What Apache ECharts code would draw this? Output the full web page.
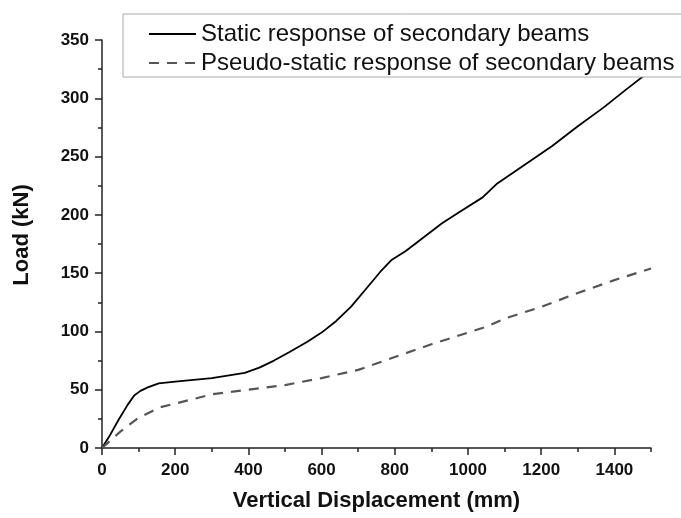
<!DOCTYPE html>
<html>
<head>
<meta charset="utf-8">
<script src="https://cdn.jsdelivr.net/npm/echarts@6/dist/echarts.min.js"></script>
<style>html,body{margin:0;padding:0;background:#fff}#c{width:681px;height:518px}</style>
</head>
<body>
<div id="c"></div>
<script>
var seriesNames = ['Static response of secondary beams', 'Pseudo-static response of secondary beams'];
var staticX = [0,20,45,70,88,105,125,155,200,300,390,430,470,510,560,600,640,680,720,760,790,830,880,930,980,1040,1080,1150,1230,1300,1370,1430,1500];
var staticY = [0,10,24,37,45,49,52,55.5,57,60,64.5,69,75,82,91,99,109,121,136,151,161,169,181,193,203,215,227,242,259,276,292,307,324];
var pseudoX = [0,25,50,100,160,250,300,400,500,600,700,800,900,1000,1050,1100,1200,1300,1400,1500];
var pseudoY = [0,7,14,26,35,42,46,50,54,60,67,78,89,99,104,111,121,133,144,154];
var xTitle = 'Vertical Displacement (mm)';
var yTitle = 'Load (kN)';

function pairs(xs, ys){ return xs.map(function(x,i){ return [x, ys[i]]; }); }

var font = 'Liberation Sans, Arial, sans-serif';
var axisCol = '#222';
var chart = echarts.init(document.getElementById('c'), null, {renderer:'canvas'});
chart.setOption({
  backgroundColor: '#fff',
  animation: false,
  grid: {left: 102, right: 30, top: 40, bottom: 70, containLabel: false},
  legend: {
    orient: 'vertical',
    left: 123, top: 14,
    padding: [8, 40, 2, 25],
    itemGap: 5,
    itemWidth: 47,
    itemHeight: 14,
    backgroundColor: '#fff',
    borderColor: '#aaa',
    borderWidth: 1,
    itemStyle: {opacity: 0},
    textStyle: {fontFamily: font, fontSize: 24, color: '#111'},
    data: seriesNames
  },
  xAxis: [{
    type: 'value', min: 0, max: 1500, interval: 200,
    name: xTitle, nameLocation: 'middle', nameGap: 42,
    nameTextStyle: {fontFamily: font, fontSize: 22, fontWeight: 'bold', color: '#111'},
    splitLine: {show: false},
    axisLine: {show: true, onZero: false, lineStyle: {color: axisCol, width: 1.5}},
    axisTick: {show: true, length: 7, lineStyle: {color: axisCol, width: 1.5}},
    axisLabel: {showMaxLabel: false, margin: 14, fontFamily: font, fontSize: 17, fontWeight: 'bold', color: '#111',
      formatter: function(v){ return String(v); }}
  }, {
    type: 'value', min: 0, max: 1500, interval: 100, position: 'bottom',
    splitLine: {show: false},
    axisLine: {show: false},
    axisTick: {show: true, length: 4, lineStyle: {color: axisCol, width: 1.5}},
    axisLabel: {show: false}
  }],
  yAxis: {
    type: 'value', min: 0, max: 350, interval: 50,
    name: yTitle, nameLocation: 'middle', nameGap: 69,
    nameTextStyle: {fontFamily: font, fontSize: 22, fontWeight: 'bold', color: '#111', padding: [0, 0, 0, 18]},
    splitLine: {show: false},
    axisLine: {show: true, onZero: false, lineStyle: {color: axisCol, width: 1.5}},
    axisTick: {show: true, length: 7, lineStyle: {color: axisCol, width: 1.5}},
    minorTick: {show: true, splitNumber: 2, length: 4, lineStyle: {color: axisCol, width: 1.5}},
    axisLabel: {margin: 13, fontFamily: font, fontSize: 17, fontWeight: 'bold', color: '#111'}
  },
  series: [{
    name: seriesNames[0], type: 'line', xAxisIndex: 0, symbol: 'none',
    lineStyle: {color: '#000', width: 1.8},
    itemStyle: {color: '#000'},
    data: pairs(staticX, staticY)
  }, {
    name: seriesNames[1], type: 'line', xAxisIndex: 0, symbol: 'none',
    lineStyle: {color: '#555', width: 2.2, type: [10, 8]},
    itemStyle: {color: '#555'},
    data: pairs(pseudoX, pseudoY)
  }]
});
</script>
</body>
</html>
